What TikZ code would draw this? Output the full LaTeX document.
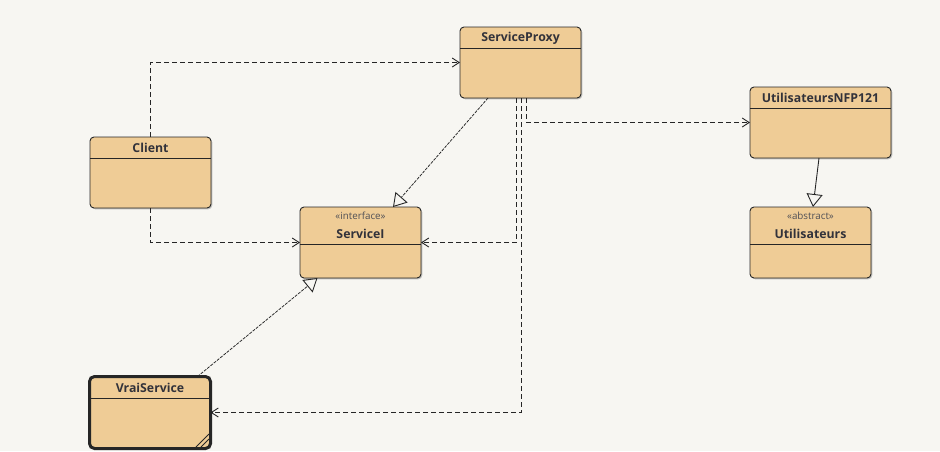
\documentclass[tikz,border=0pt]{standalone}
\usepackage{fontspec}
\setmainfont{Open Sans}
\usetikzlibrary{arrows.meta,shadows}
\definecolor{bg}{RGB}{247,246,242}
\definecolor{clsfill}{RGB}{239,204,150}
\definecolor{clsline}{RGB}{38,38,38}
\definecolor{txt}{RGB}{50,50,58}
\definecolor{stereo}{RGB}{80,80,86}
\tikzset{
  cls/.style={draw=clsline, fill=clsfill, rounded corners=4pt, line width=0.9pt,
    outer sep=0pt, inner sep=0pt, anchor=north west,
    drop shadow={shadow xshift=1.3pt, shadow yshift=-1.3pt, opacity=0.22, fill=black}},
  sepline/.style={draw=clsline, line width=0.9pt},
  title/.style={font=\fontsize{12.3}{14}\selectfont\bfseries, text=txt, inner sep=0pt},
  stereotype/.style={font=\fontsize{9.8}{11}\selectfont, text=stereo, inner sep=0pt},
  dep/.style={draw=clsline, line width=0.9pt, dash pattern=on 5pt off 3pt,
    -{Straight Barb[length=7pt,width=9pt,line width=0.9pt]}},
  real/.style={draw=clsline, line width=0.75pt, dash pattern=on 3pt off 1.2pt,
    -{Triangle[open,length=13pt,width=16pt,fill=bg,line width=0.9pt]}},
  gen/.style={draw=clsline, line width=0.9pt,
    -{Triangle[open,length=13pt,width=16pt,fill=bg,line width=0.9pt]}},
}
\begin{document}
\begin{tikzpicture}[x=1pt,y=-1pt]
\fill[bg] (0,0) rectangle (940,451);
\useasboundingbox (0,0) rectangle (940,451);

% ServiceProxy
\node[cls, minimum width=121pt, minimum height=71pt] (sp) at (460,27) {};
\draw[sepline] (0,48 -| sp.west) -- (0,48 -| sp.east);
\node[title] (spname) at (520.5,38) {ServiceProxy};

% Client
\node[cls, minimum width=121pt, minimum height=71pt] (client) at (90,137) {};
\draw[sepline] (0,158 -| client.west) -- (0,158 -| client.east);
\node[title] (clientname) at (150.5,148) {Client};

% ServiceI
\node[cls, minimum width=121pt, minimum height=71pt] (servi) at (300,207) {};
\draw[sepline] (0,244 -| servi.west) -- (0,244 -| servi.east);
\node[stereotype] (servister) at (360.5,216) {«interface»};
\node[title] (serviname) at (360.5,234) {ServiceI};

% VraiService
\node[cls, line width=3pt, rounded corners=5pt, minimum width=121pt, minimum height=72pt] (vrai) at (89.5,376.5) {};
\draw[sepline] (0,398 -| vrai.west) -- (0,398 -| vrai.east);
\node[title] (vrainame) at (150,388) {VraiService};
\draw[draw=clsline, line width=0.8pt] (196,447) -- (209,434);
\draw[draw=clsline, line width=0.8pt] (201,447) -- (209,439);

% UtilisateursNFP121
\node[cls, minimum width=141pt, minimum height=71pt] (unfp) at (750,87) {};
\draw[sepline] (0,108 -| unfp.west) -- (0,108 -| unfp.east);
\node[title] (unfpname) at (820.5,98) {UtilisateursNFP121};

% Utilisateurs
\node[cls, minimum width=121pt, minimum height=71pt] (util) at (750,207) {};
\draw[sepline] (0,244 -| util.west) -- (0,244 -| util.east);
\node[stereotype] (utilster) at (810.5,216) {«abstract»};
\node[title] (utilname) at (810.5,234) {Utilisateurs};

% dependencies
\draw[dep] (client.north) |- (sp.west);
\draw[dep] (client.south) |- (servi.west);
\draw[dep] ([xshift=-4pt]sp.south) |- (servi.east);
\draw[dep] ([xshift=1pt]sp.south) |- (vrai.east);
\draw[dep] ([xshift=6pt]sp.south) |- (unfp.west);

% realizations
\draw[real] ([xshift=28pt]sp.south west) -- ([xshift=93pt]servi.north west);
\draw[real] ([xshift=108pt]vrai.north west) -- ([xshift=17.5pt]servi.south west);

% generalization
\draw[gen] ([xshift=69pt]unfp.south west) -- ([xshift=63pt]util.north west);
\end{tikzpicture}
\end{document}
